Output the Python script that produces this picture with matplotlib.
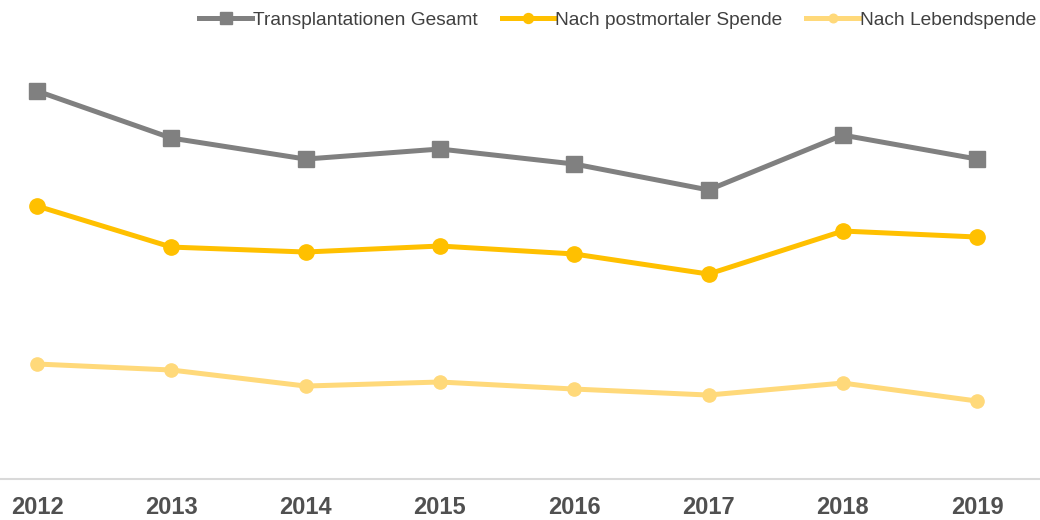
import matplotlib
matplotlib.use("Agg")
from matplotlib import pyplot as plt

years = ["2012", "2013", "2014", "2015", "2016", "2017", "2018", "2019"]
gesamt = [2588, 2274, 2134, 2201, 2101, 1928, 2294, 2134]
postmortal = [1821, 1547, 1514, 1554, 1501, 1367, 1654, 1614]
lebend = [767, 727, 620, 647, 600, 560, 640, 520]

plt.rcParams['font.family'] = ['Liberation Sans', 'DejaVu Sans']

fig = plt.figure(figsize=(10.4, 5.2), dpi=100)
ax = fig.add_axes([0, 41 / 520, 1, 479 / 520])

x = list(range(len(years)))
ax.plot(x, gesamt, color='#808080', lw=3.6, marker='s', ms=12.2,
        label="Transplantationen Gesamt")
ax.plot(x, postmortal, color='#ffc000', lw=3.6, marker='o', ms=11,
        label="Nach postmortaler Spende")
ax.plot(x, lebend, color='#ffd97a', lw=3.6, marker='o', ms=9.5,
        label="Nach Lebendspende")

ax.set_xlim(-0.2755, 7.468)
ax.set_ylim(0, 3195)
ax.set_xticks(x)
ax.set_xticklabels(years, fontsize=17, fontweight='bold', color='#505050')
ax.tick_params(axis='x', length=0, pad=12)
ax.set_yticks([])
for side in ['top', 'right', 'left']:
    ax.spines[side].set_visible(False)
ax.spines['bottom'].set_color('#d9d9d9')
ax.spines['bottom'].set_linewidth(1.5)

legend = ax.legend(loc='upper right', bbox_to_anchor=(1.0 + 6 / 1040, 1.0 - 2 / 479),
                   ncol=3, frameon=False, fontsize=13.8, handlelength=2.75,
                   handletextpad=0.05, columnspacing=1.25, borderaxespad=0.1,
                   markerscale=0.65, labelcolor='#404040')

fig.savefig("out.png", dpi=100)
